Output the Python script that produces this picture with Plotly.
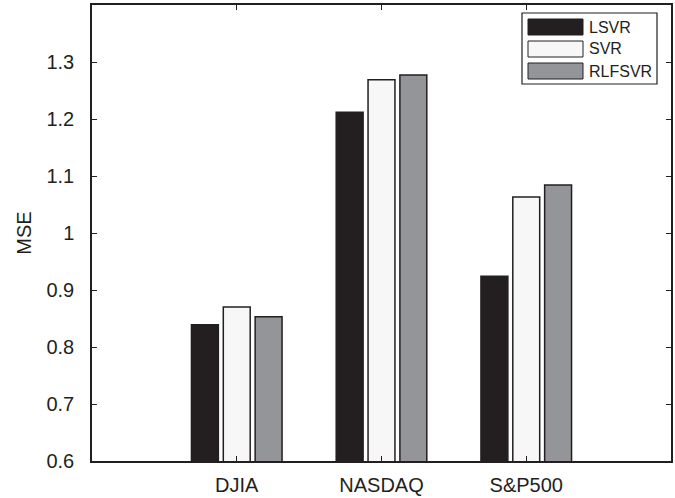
import plotly.graph_objects as go

categories = ["DJIA", "NASDAQ", "S&P500"]
series_names = ["LSVR", "SVR", "RLFSVR"]
lsvr = [0.839, 1.212, 0.924]
svr = [0.870, 1.269, 1.063]
rlfsvr = [0.853, 1.277, 1.084]
y_ticks = [0.6, 0.7, 0.8, 0.9, 1, 1.1, 1.2, 1.3]
y_tick_text = ["0.6", "0.7", "0.8", "0.9", "1", "1.1", "1.2", "1.3"]

colors = ["#231f20", "#f7f7f7", "#939598"]
edge = "#231f20"
W, H = 675, 498
ml, mr, mt, mb = 92, 4, 5, 37
pw, ph = W - ml - mr, H - mt - mb

fig = go.Figure()
for name, vals, c in zip(series_names, [lsvr, svr, rlfsvr], colors):
    fig.add_trace(go.Bar(x=categories, y=vals, name=name, marker=dict(color=c, line=dict(color=edge, width=1.5)),
                         showlegend=False))

def px2paper(x, y):
    return (x - ml) / pw, (H - mb - y) / ph

# custom legend (wide swatches like the original)
shapes = []
annotations = []
x0, y0 = px2paper(522, 13)
x1, y1 = px2paper(657, 84)
shapes.append(dict(type="rect", xref="paper", yref="paper", x0=x0, y0=y1, x1=x1, y1=y0,
                   line=dict(color=edge, width=1.2), fillcolor="white", layer="above"))
sw_tops = [19, 41, 63]
for name, c, t in zip(series_names, colors, sw_tops):
    a0, b0 = px2paper(528, t)
    a1, b1 = px2paper(583, t + 16)
    shapes.append(dict(type="rect", xref="paper", yref="paper", x0=a0, y0=b1, x1=a1, y1=b0,
                       line=dict(color=edge, width=1), fillcolor=c, layer="above"))
    tx, ty = px2paper(587, t + 8)
    annotations.append(dict(text=name, xref="paper", yref="paper", x=tx, y=ty, xanchor="left", yanchor="middle",
                            showarrow=False, font=dict(size=16, color="#231f20")))

fig.update_layout(
    width=W, height=H,
    margin=dict(l=ml, r=mr, t=mt, b=mb, pad=0, autoexpand=False),
    paper_bgcolor="white", plot_bgcolor="white",
    barmode="group", bargap=0.34, bargroupgap=0.155,
    font=dict(family="Liberation Sans, Arial, sans-serif", size=20, color="#231f20"),
    shapes=shapes, annotations=annotations,
    showlegend=False,
)
fig.update_xaxes(type="category", range=[-1, 3], showgrid=False, zeroline=False, automargin=False,
                 showline=True, linecolor=edge, linewidth=1.5, mirror="ticks",
                 ticks="inside", ticklen=5, tickcolor=edge, tickwidth=1,
                 ticklabelstandoff=5, tickfont=dict(size=20))
fig.update_yaxes(range=[0.6, 1.4], tickvals=y_ticks, ticktext=y_tick_text, showgrid=False, zeroline=False,
                 automargin=False,
                 showline=True, linecolor=edge, linewidth=1.5, mirror="ticks",
                 ticks="inside", ticklen=5, tickcolor=edge, tickwidth=1,
                 ticklabelstandoff=12, tickfont=dict(size=20),
                 title=dict(text="MSE", standoff=9, font=dict(size=20)))

fig.write_html("out.html")
